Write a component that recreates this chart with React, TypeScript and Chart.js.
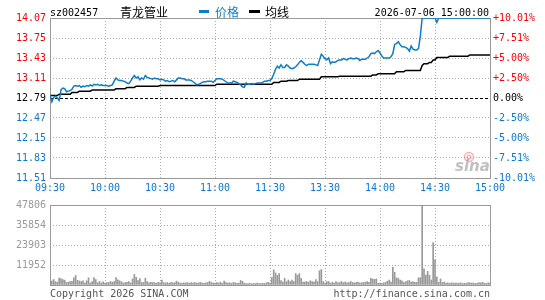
import React, { useEffect, useRef } from 'react';
import { Chart, registerables } from 'chart.js';

Chart.register(...registerables);

const stockCode = 'sz002457';
const stockName = '青龙管业';
const legendPrice = '价格';
const legendAvg = '均线';
const dateTime = '2026-07-06 15:00:00';
const copyLeft = 'Copyright 2026 SINA.COM';
const copyRight = 'http://finance.sina.com.cn';

const PRE_CLOSE = 12.79;
const priceTicks = [11.51, 11.83, 12.15, 12.47, 12.79, 13.11, 13.43, 13.75, 14.07];
const pctLabels = ['-10.01%', '-7.51%', '-5.00%', '-2.50%', '0.00%', '+2.50%', '+5.00%', '+7.51%', '+10.01%'];
const timeTicks = [0, 30, 60, 90, 120, 150, 180, 210, 240];
const timeLabels = ['09:30', '10:00', '10:30', '11:00', '11:30', '13:30', '14:00', '14:30', '15:00'];
const volTicks = [0, 11951.5, 23903, 35854.5, 47806];
const volLabels = ['', '11952', '23903', '35854', '47806'];

const price = [
  12.84, 12.73, 12.80, 12.82, 12.79, 12.75, 12.92, 12.95, 12.94, 12.89,
  12.90, 12.91, 12.93, 12.98, 12.99, 12.98, 12.99, 12.96, 12.98, 12.97,
  12.99, 12.98, 13.00, 12.98, 13.01, 13.00, 13.01, 12.99, 13.00, 12.99,
  12.99, 12.99, 12.98, 12.99, 13.00, 13.06, 13.11, 13.08, 13.07, 13.07,
  13.06, 13.05, 13.03, 13.02, 13.06, 13.11, 13.15, 13.11, 13.13, 13.08,
  13.11, 13.09, 13.15, 13.12, 13.11, 13.10, 13.09, 13.11, 13.10, 13.10,
  13.08, 13.09, 13.08, 13.06, 13.07, 13.05, 13.06, 13.07, 13.05, 13.08,
  13.11, 13.11, 13.10, 13.10, 13.08, 13.08, 13.08, 13.07, 13.05, 13.03,
  13.00, 13.01, 13.02, 13.04, 13.05, 13.05, 13.06, 13.06, 13.06, 13.04,
  13.07, 13.10, 13.10, 13.10, 13.09, 13.07, 13.05, 13.03, 13.03, 13.03,
  13.06, 13.05, 13.04, 13.02, 13.00, 12.97, 12.96, 13.03, 13.01, 13.01,
  13.02, 13.01, 13.02, 13.03, 13.03, 13.03, 13.04, 13.06, 13.06, 13.07,
  13.07, 13.10, 13.17, 13.25, 13.30, 13.27, 13.32, 13.28, 13.28, 13.32,
  13.30, 13.27, 13.26, 13.27, 13.29, 13.32, 13.36, 13.39, 13.36, 13.33,
  13.31, 13.33, 13.33, 13.33, 13.33, 13.32, 13.31, 13.40, 13.49, 13.46,
  13.42, 13.40, 13.43, 13.34, 13.37, 13.36, 13.37, 13.39, 13.40, 13.40,
  13.42, 13.41, 13.40, 13.42, 13.43, 13.42, 13.42, 13.43, 13.42, 13.39,
  13.41, 13.41, 13.41, 13.43, 13.45, 13.50, 13.51, 13.50, 13.53, 13.55,
  13.51, 13.46, 13.43, 13.43, 13.43, 13.43, 13.45, 13.50, 13.65, 13.66,
  13.69, 13.64, 13.61, 13.61, 13.60, 13.58, 13.54, 13.62, 13.57, 13.56,
  13.56, 13.58, 13.78, 14.07, 14.07, 14.07, 14.07, 14.07, 14.07, 14.07,
  14.07, 14.00, 14.07, 14.07, 14.07, 14.07, 14.07, 14.07, 14.07, 14.07,
  14.07, 14.07, 14.07, 14.07, 14.07, 14.07, 14.07, 14.07, 14.07, 14.07,
  14.07, 14.07, 14.07, 14.07, 14.07, 14.07, 14.07, 14.07, 14.07, 14.07, 14.07,
];

const avgPrice = [
  12.83, 12.83, 12.83, 12.83, 12.83, 12.85, 12.85, 12.85, 12.85, 12.85,
  12.85, 12.85, 12.88, 12.88, 12.88, 12.88, 12.90, 12.90, 12.90, 12.90,
  12.90, 12.90, 12.90, 12.92, 12.92, 12.92, 12.92, 12.92, 12.92, 12.92,
  12.92, 12.92, 12.92, 12.92, 12.92, 12.92, 12.94, 12.94, 12.94, 12.94,
  12.94, 12.94, 12.96, 12.96, 12.96, 12.96, 12.96, 12.98, 12.98, 12.98,
  12.98, 12.98, 12.98, 12.98, 12.98, 12.98, 12.98, 12.98, 12.98, 12.98,
  12.99, 12.99, 12.99, 12.99, 12.99, 12.99, 12.99, 12.99, 12.99, 12.99,
  12.99, 12.99, 12.99, 12.99, 12.99, 12.99, 12.99, 12.99, 12.99, 12.99,
  12.99, 12.99, 12.99, 12.99, 12.99, 12.99, 12.99, 12.99, 12.99, 12.99,
  12.99, 13.01, 13.01, 13.01, 13.01, 13.01, 13.01, 13.01, 13.01, 13.01,
  13.01, 13.01, 13.01, 13.01, 13.01, 13.01, 13.01, 13.01, 13.01, 13.01,
  13.01, 13.01, 13.01, 13.01, 13.01, 13.01, 13.01, 13.01, 13.01, 13.01,
  13.01, 13.01, 13.04, 13.04, 13.04, 13.04, 13.06, 13.06, 13.06, 13.06,
  13.07, 13.07, 13.07, 13.07, 13.07, 13.07, 13.09, 13.09, 13.09, 13.09,
  13.09, 13.09, 13.09, 13.09, 13.09, 13.09, 13.09, 13.09, 13.13, 13.13,
  13.13, 13.13, 13.13, 13.13, 13.13, 13.13, 13.13, 13.13, 13.14, 13.14,
  13.14, 13.14, 13.14, 13.14, 13.14, 13.14, 13.14, 13.14, 13.14, 13.14,
  13.14, 13.14, 13.14, 13.14, 13.14, 13.14, 13.16, 13.16, 13.16, 13.18,
  13.18, 13.18, 13.18, 13.18, 13.18, 13.18, 13.18, 13.18, 13.18, 13.21,
  13.21, 13.21, 13.21, 13.21, 13.23, 13.23, 13.23, 13.23, 13.23, 13.23,
  13.23, 13.23, 13.23, 13.31, 13.34, 13.34, 13.34, 13.36, 13.36, 13.40,
  13.40, 13.44, 13.44, 13.44, 13.44, 13.44, 13.44, 13.44, 13.46, 13.46,
  13.46, 13.46, 13.46, 13.46, 13.46, 13.46, 13.46, 13.46, 13.46, 13.48,
  13.48, 13.48, 13.48, 13.48, 13.48, 13.48, 13.48, 13.48, 13.48, 13.48, 13.48,
];

const volume = [
  4600, 2400, 3300, 2000, 1700, 4100, 3900, 3300, 2900, 1600,
  1700, 2100, 2200, 4300, 5700, 2800, 2400, 2000, 2500, 1200,
  2500, 4300, 1200, 2000, 4500, 3300, 1300, 2100, 1200, 1900,
  1200, 1500, 1500, 2100, 1700, 2100, 4400, 3100, 2500, 2000,
  1200, 1500, 1600, 2100, 1200, 3600, 6300, 4600, 2600, 3800,
  1500, 1500, 4100, 2000, 1300, 1600, 1500, 1400, 1100, 1600,
  1300, 2900, 1400, 1200, 1500, 1000, 1600, 1300, 1400, 2300,
  1700, 1100, 1000, 1300, 1200, 1500, 1000, 1400, 1200, 1500,
  1100, 1300, 1600, 1200, 1000, 1300, 1400, 2200, 1500, 1100,
  1200, 1400, 1200, 1700, 1000, 2300, 1400, 1100, 1300, 1000,
  1500, 1300, 1000, 1200, 2700, 2200, 1100, 900, 800, 1000,
  700, 900, 800, 1100, 900, 800, 1000, 900, 1300, 1600,
  1200, 4500, 9100, 7200, 5700, 6800, 2700, 1800, 4000, 2000,
  3000, 2000, 3000, 2000, 6800, 5900, 6800, 4000, 1700, 1700,
  2100, 1600, 2500, 2000, 1800, 3200, 2000, 8500, 9300, 2000,
  1100, 2000, 2100, 1100, 1700, 1200, 2000, 1300, 1500, 2100,
  1400, 1800, 1300, 1500, 2100, 1500, 1300, 1500, 1800, 1200,
  1300, 1500, 1700, 2000, 1600, 4000, 3600, 3400, 3600, 1000,
  1100, 1000, 1300, 1500, 2200, 3000, 1800, 10600, 7600, 4300,
  4000, 3000, 2500, 1500, 2000, 2500, 2700, 1800, 2000, 1600,
  1600, 4300, 4400, 47806, 9700, 5900, 8200, 5900, 3000, 25400,
  15000, 4900, 1600, 3600, 1500, 1700, 1200, 1300, 1000, 1300,
  1100, 1200, 1200, 1000, 1300, 900, 1100, 1000, 1500, 1300,
  1100, 1200, 900, 1000, 1500, 1300, 1600, 1000, 900, 1300, 1100,
];

const MONO = "'DejaVu Sans Mono', monospace";
const CJK = "'Noto Sans CJK SC', sans-serif";
const BLUE = '#0f7cc8';
const LABEL_BLUE = '#0a7bd0';
const RED = '#ff0000';
const GRID = '#aaaaaa';
const FRAME = '#999999';
const TRANSPARENT = 'rgba(0,0,0,0)';

function priceColor(v: number): string {
  if (Math.abs(v - PRE_CLOSE) < 1e-6) return '#000000';
  return v > PRE_CLOSE ? RED : LABEL_BLUE;
}

const framePlugin = {
  id: 'frame',
  beforeDatasetsDraw(chart: any) {
    const { ctx, chartArea } = chart;
    ctx.save();
    ctx.strokeStyle = FRAME;
    ctx.lineWidth = 1;
    ctx.strokeRect(
      Math.round(chartArea.left) + 0.5,
      Math.round(chartArea.top) + 0.5,
      Math.round(chartArea.right - chartArea.left),
      Math.round(chartArea.bottom - chartArea.top)
    );
    ctx.restore();
  },
};

const headerPlugin = {
  id: 'header',
  beforeDatasetsDraw(chart: any) {
    const { ctx } = chart;
    ctx.save();
    // sina watermark
    ctx.strokeStyle = 'rgba(225,90,90,0.45)';
    ctx.lineWidth = 1.5;
    ctx.beginPath();
    ctx.arc(469, 157, 4.5, 0, Math.PI * 2);
    ctx.stroke();
    ctx.beginPath();
    ctx.arc(469, 157, 1.8, 0, Math.PI * 2);
    ctx.stroke();
    ctx.font = "italic bold 15px 'DejaVu Sans', sans-serif";
    ctx.fillStyle = 'rgba(150,150,150,0.6)';
    ctx.textAlign = 'left';
    ctx.textBaseline = 'alphabetic';
    ctx.fillText('sina', 455, 171);
    ctx.restore();
  },
  afterDraw(chart: any) {
    const { ctx } = chart;
    ctx.save();
    ctx.textBaseline = 'alphabetic';
    ctx.textAlign = 'left';
    ctx.fillStyle = '#000';
    ctx.font = `10px ${MONO}`;
    ctx.fillText(stockCode, 50, 15.5);
    ctx.font = `12px ${CJK}`;
    ctx.fillText(stockName, 120, 16.5);
    ctx.fillStyle = BLUE;
    ctx.fillRect(199, 10, 10, 3);
    ctx.fillText(legendPrice, 215, 16.5);
    ctx.fillStyle = '#000';
    ctx.fillRect(249, 10, 11, 3);
    ctx.fillText(legendAvg, 265, 16.5);
    ctx.font = `10px ${MONO}`;
    ctx.textAlign = 'right';
    ctx.fillText(dateTime, 489, 15.5);
    ctx.restore();
  },
};

const footerPlugin = {
  id: 'footer',
  afterDraw(chart: any) {
    const { ctx } = chart;
    ctx.save();
    ctx.font = `10px ${MONO}`;
    ctx.fillStyle = '#555';
    ctx.textBaseline = 'alphabetic';
    ctx.textAlign = 'left';
    ctx.fillText(copyLeft, 50, 101.5);
    ctx.textAlign = 'right';
    ctx.fillText(copyRight, 490, 101.5);
    ctx.restore();
  },
};

export default function App() {
  const priceRef = useRef<HTMLCanvasElement>(null);
  const volRef = useRef<HTMLCanvasElement>(null);

  useEffect(() => {
    const priceData = price.map((y, i) => ({ x: i, y }));
    const avgData = avgPrice.map((y, i) => ({ x: i, y }));
    const volData = volume.map((y, i) => ({ x: i, y }));

    const edgeX = (v: number) => v === timeTicks[0] || v === timeTicks[timeTicks.length - 1];

    const pc = new Chart(priceRef.current as HTMLCanvasElement, {
      type: 'line',
      data: {
        datasets: [
          {
            label: legendAvg,
            data: avgData,
            borderColor: '#000000',
            borderWidth: 1.5,
            pointRadius: 0,
            tension: 0,
            order: 2,
          },
          {
            label: legendPrice,
            data: priceData,
            borderColor: BLUE,
            borderWidth: 1.5,
            pointRadius: 0,
            tension: 0,
            order: 1,
          },
        ],
      },
      options: {
        animation: false,
        responsive: false,
        maintainAspectRatio: false,
        devicePixelRatio: 1,
        layout: { padding: { top: 18, left: 0, right: 0, bottom: 0 } },
        plugins: { legend: { display: false }, tooltip: { enabled: false } },
        scales: {
          x: {
            type: 'linear',
            position: 'bottom',
            min: timeTicks[0],
            max: timeTicks[timeTicks.length - 1],
            afterBuildTicks: (s: any) => {
              s.ticks = timeTicks.map((v) => ({ value: v }));
            },
            afterFit: (s: any) => {
              s.height = 17;
            },
            ticks: {
              autoSkip: false,
              maxRotation: 0,
              padding: 4,
              color: LABEL_BLUE,
              font: { family: MONO, size: 10 },
              callback: (v: any) => timeLabels[timeTicks.indexOf(Number(v))],
            },
            grid: {
              drawTicks: false,
              lineWidth: 1,
              color: (c: any) => (c.tick && edgeX(c.tick.value) ? TRANSPARENT : GRID),
            },
            border: { display: false, dash: [1, 2] },
          },
          y: {
            type: 'linear',
            position: 'left',
            min: priceTicks[0],
            max: priceTicks[priceTicks.length - 1],
            afterBuildTicks: (s: any) => {
              s.ticks = priceTicks.map((v) => ({ value: v }));
            },
            afterFit: (s: any) => {
              s.width = 50;
            },
            ticks: {
              autoSkip: false,
              padding: 4,
              font: { family: MONO, size: 10 },
              color: (c: any) => priceColor(c.tick.value),
              callback: (v: any) => Number(v).toFixed(2),
            },
            grid: {
              drawTicks: false,
              lineWidth: 1,
              color: (c: any) => {
                if (!c.tick) return GRID;
                const v = c.tick.value;
                if (Math.abs(v - PRE_CLOSE) < 1e-6) return '#000000';
                if (v === priceTicks[0] || v === priceTicks[priceTicks.length - 1]) return TRANSPARENT;
                return GRID;
              },
            },
            border: {
              display: false,
              dash: (c: any) => (c.tick && Math.abs(c.tick.value - PRE_CLOSE) < 1e-6 ? [3, 2] : [1, 2]),
            },
          },
          y2: {
            type: 'linear',
            position: 'right',
            min: priceTicks[0],
            max: priceTicks[priceTicks.length - 1],
            afterBuildTicks: (s: any) => {
              s.ticks = priceTicks.map((v) => ({ value: v }));
            },
            afterFit: (s: any) => {
              s.width = 55;
            },
            ticks: {
              autoSkip: false,
              padding: 3,
              font: { family: MONO, size: 10 },
              color: (c: any) => priceColor(c.tick.value),
              callback: (_v: any, i: number) => pctLabels[i],
            },
            grid: { display: false, drawTicks: false },
            border: { display: false },
          },
        },
      } as any,
      plugins: [framePlugin, headerPlugin],
    });

    const vc = new Chart(volRef.current as HTMLCanvasElement, {
      type: 'bar',
      data: {
        datasets: [
          {
            label: 'volume',
            data: volData,
            backgroundColor: '#999999',
            borderWidth: 0,
            barThickness: 1,
          },
        ],
      },
      options: {
        animation: false,
        responsive: false,
        maintainAspectRatio: false,
        devicePixelRatio: 1,
        layout: { padding: { top: 6, left: 0, right: 55, bottom: 0 } },
        plugins: { legend: { display: false }, tooltip: { enabled: false } },
        scales: {
          x: {
            type: 'linear',
            position: 'bottom',
            offset: false,
            min: timeTicks[0],
            max: timeTicks[timeTicks.length - 1],
            afterBuildTicks: (s: any) => {
              s.ticks = timeTicks.map((v) => ({ value: v }));
            },
            afterFit: (s: any) => {
              s.height = 15;
            },
            ticks: { display: false, autoSkip: false },
            grid: {
              drawTicks: false,
              lineWidth: 1,
              offset: false,
              color: (c: any) => (c.tick && edgeX(c.tick.value) ? TRANSPARENT : GRID),
            },
            border: { display: false, dash: [1, 2] },
          },
          y: {
            type: 'linear',
            position: 'left',
            min: volTicks[0],
            max: volTicks[volTicks.length - 1],
            afterBuildTicks: (s: any) => {
              s.ticks = volTicks.map((v) => ({ value: v }));
            },
            afterFit: (s: any) => {
              s.width = 50;
            },
            ticks: {
              autoSkip: false,
              padding: 4,
              color: '#999999',
              font: { family: MONO, size: 10 },
              callback: (_v: any, i: number) => volLabels[i],
            },
            grid: {
              drawTicks: false,
              lineWidth: 1,
              color: (c: any) =>
                c.tick && (c.tick.value === volTicks[0] || c.tick.value === volTicks[volTicks.length - 1])
                  ? TRANSPARENT
                  : GRID,
            },
            border: { display: false, dash: [1, 2] },
          },
        },
      } as any,
      plugins: [framePlugin, footerPlugin],
    });

    return () => {
      pc.destroy();
      vc.destroy();
    };
  }, []);

  return (
    <div style={{ position: 'absolute', left: 0, top: 0, width: 545, height: 300, background: '#ffffff' }}>
      <canvas
        ref={priceRef}
        width={545}
        height={195}
        style={{ position: 'absolute', left: 0, top: 0, width: 545, height: 195 }}
      />
      <canvas
        ref={volRef}
        width={545}
        height={105}
        style={{ position: 'absolute', left: 0, top: 195, width: 545, height: 105 }}
      />
    </div>
  );
}
